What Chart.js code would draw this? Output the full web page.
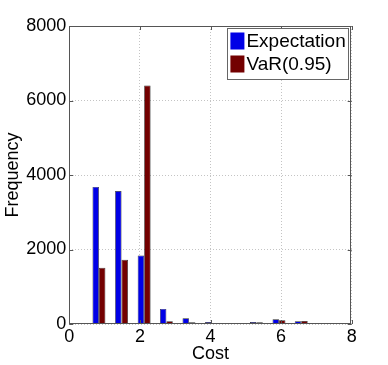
<!DOCTYPE html>
<html lang="en">
<head>
    <meta charset="UTF-8">
    <title>Cost histogram</title>
    <script src="https://cdn.jsdelivr.net/npm/chart.js"></script>
    <style>
        html, body { margin: 0; padding: 0; background: #fff; }
        #wrap { width: 388px; height: 365px; }
    </style>
</head>
<body>
    <div id="wrap"><canvas id="cost-chart" width="388" height="365"></canvas></div>
    <script>
        const binCenters = [0.84, 1.48, 2.12, 2.75, 3.39, 4.03, 4.66, 5.30, 5.94, 6.57];
        const expectation = [3680, 3570, 1840, 405, 153, 54, 25, 54, 127, 73];
        const var95 = [1510, 1725, 6400, 72, 45, 15, 25, 45, 100, 80];
        const xTicks = [0, 2, 4, 6, 8];
        const yTicks = [0, 2000, 4000, 6000, 8000];

        const FONT = 'Liberation Sans, Arial, Helvetica, sans-serif';
        const AXIS = '#555';

        function points(values) {
            return binCenters.map((x, i) => ({ x: x, y: values[i] }));
        }

        // box, inward ticks and the legend inside the plot (matlab style)
        const boxPlugin = {
            id: 'box',
            afterDatasetsDraw(chart) {
                const ctx = chart.ctx;
                const a = chart.chartArea;
                const sx = chart.scales.x, sy = chart.scales.y;
                ctx.save();
                ctx.strokeStyle = AXIS;
                ctx.lineWidth = 1;
                ctx.strokeRect(Math.round(a.left) + 0.5, Math.round(a.top) + 0.5,
                    Math.round(a.right - a.left) - 1, Math.round(a.bottom - a.top) - 1);
                ctx.beginPath();
                xTicks.forEach(v => {
                    const px = Math.round(sx.getPixelForValue(v)) + 0.5;
                    ctx.moveTo(px, a.bottom); ctx.lineTo(px, a.bottom - 4);
                    ctx.moveTo(px, a.top); ctx.lineTo(px, a.top + 4);
                });
                yTicks.forEach(v => {
                    const py = Math.round(sy.getPixelForValue(v)) + 0.5;
                    ctx.moveTo(a.left, py); ctx.lineTo(a.left + 4, py);
                    ctx.moveTo(a.right, py); ctx.lineTo(a.right - 4, py);
                });
                ctx.stroke();

                // legend
                ctx.font = '19px ' + FONT;
                const sets = chart.data.datasets;
                let tw = 0;
                sets.forEach(d => { tw = Math.max(tw, ctx.measureText(d.label).width); });
                const patchW = 14, patchH = 17, rowH = 23;
                const w = 3 + patchW + 2 + tw + 3;
                const h = 6 + rowH * sets.length - 1;
                const bx = a.right - 3 - w, by = a.top + 2;
                ctx.fillStyle = '#fff';
                ctx.fillRect(bx, by, w, h);
                ctx.strokeStyle = '#666';
                ctx.strokeRect(Math.round(bx) + 0.5, Math.round(by) + 0.5, Math.round(w), Math.round(h));
                sets.forEach((d, i) => {
                    const ry = by + 4.5 + i * rowH;
                    ctx.fillStyle = d.backgroundColor;
                    ctx.fillRect(bx + 3, ry, patchW, patchH);
                    ctx.fillStyle = '#000';
                    ctx.textBaseline = 'middle';
                    ctx.textAlign = 'left';
                    ctx.fillText(d.label, bx + 3 + patchW + 2, ry + patchH / 2 + 1);
                });
                ctx.restore();
            }
        };

        const ctx = document.getElementById('cost-chart').getContext('2d');
        const costChart = new Chart(ctx, {
            type: 'bar',
            data: {
                datasets: [{
                    label: 'Expectation',
                    data: points(expectation),
                    backgroundColor: '#0000e6',
                    borderColor: '#2a2a2a',
                    borderWidth: 0.7,
                    borderSkipped: 'start'
                }, {
                    label: 'VaR(0.95)',
                    data: points(var95),
                    backgroundColor: '#730000',
                    borderColor: '#2a2a2a',
                    borderWidth: 0.7,
                    borderSkipped: 'start'
                }]
            },
            options: {
                responsive: false,
                animation: false,
                events: [],
                categoryPercentage: 0.58,
                barPercentage: 1,
                layout: { padding: { top: 26, right: 36.3, left: 0, bottom: 0 } },
                plugins: {
                    legend: { display: false },
                    tooltip: { enabled: false }
                },
                scales: {
                    x: {
                        type: 'linear',
                        offset: false,
                        min: 0,
                        max: 8,
                        afterBuildTicks(axis) { axis.ticks = xTicks.map(v => ({ value: v })); },
                        afterFit(axis) { axis.height = 41; },
                        ticks: { color: '#000', font: { family: FONT, size: 18 }, padding: 2, maxRotation: 0,
                                 callback: v => String(v) },
                        grid: { offset: false, drawTicks: false, color: '#c4c4c4', lineWidth: 1 },
                        border: { display: false, dash: [1, 2] },
                        title: { display: true, text: 'Cost', color: '#000', font: { family: FONT, size: 18 }, padding: { top: 0, bottom: 0 } }
                    },
                    y: {
                        min: 0,
                        max: 8000,
                        afterBuildTicks(axis) { axis.ticks = yTicks.map(v => ({ value: v })); },
                        afterFit(axis) { axis.width = 69.3; },
                        ticks: { color: '#000', font: { family: FONT, size: 18 }, padding: 3,
                                 callback: v => String(v) },
                        grid: { drawTicks: false, color: '#c4c4c4', lineWidth: 1 },
                        border: { display: false, dash: [1, 2] },
                        title: { display: true, text: 'Frequency', color: '#000', font: { family: FONT, size: 18 }, padding: { top: 2, bottom: 0 } }
                    }
                }
            },
            plugins: [boxPlugin]
        });
    </script>
</body>
</html>
